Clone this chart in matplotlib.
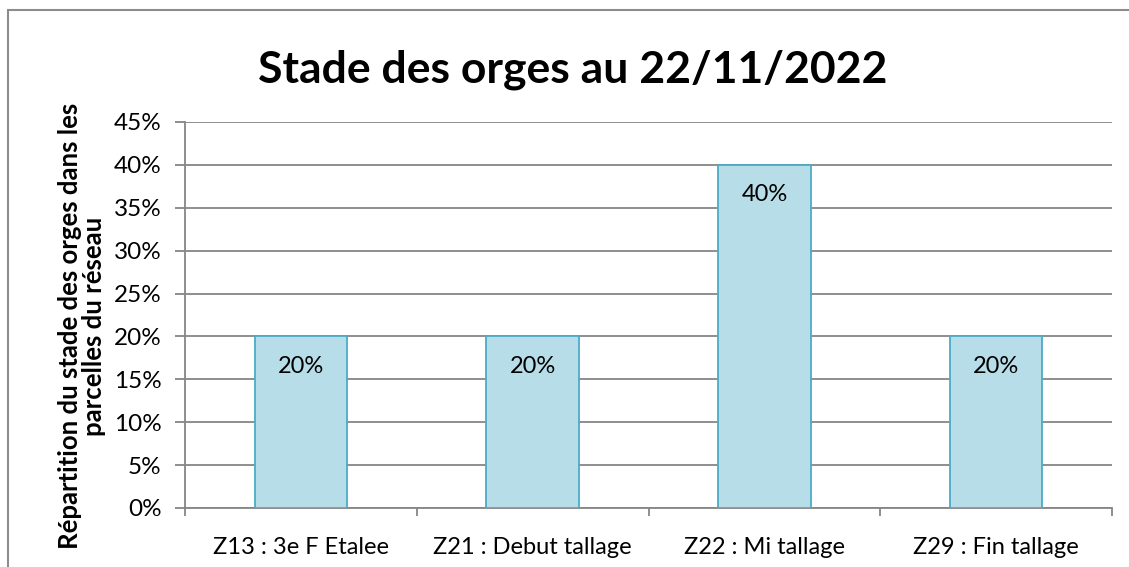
import numpy as np
import matplotlib
matplotlib.use("Agg")
import matplotlib.pyplot as plt
from matplotlib.patches import Rectangle

plt.rcParams["font.family"] = ["Lato", "DejaVu Sans"]

categories = ["Z13 : 3e F Etalee", "Z21 : Debut tallage", "Z22 : Mi tallage", "Z29 : Fin tallage"]
values = [0.20, 0.20, 0.40, 0.20]
labels = ["20%", "20%", "40%", "20%"]
yticks = [0.0, 0.05, 0.10, 0.15, 0.20, 0.25, 0.30, 0.35, 0.40, 0.45]

grey = "#868686"

fig = plt.figure(figsize=(11.29, 5.67), dpi=100)
W, H = 1129, 567
# plot area in pixels: left 185, right 1112, top 122, bottom 508
ax = fig.add_axes([185 / W, 1 - 508 / H, (1112 - 185) / W, (508 - 122) / H])

# cadre exterieur (coupe a droite et en bas)
fig.patches.append(Rectangle((8 / W, -0.1), 1.2, 1 - 10 / H + 0.1,
                             transform=fig.transFigure, fill=False,
                             edgecolor="#8c8c8c", linewidth=1.5))

x = np.arange(len(categories))
ax.set_axisbelow(True)
ax.yaxis.grid(True, color=grey, linewidth=1.3)
ax.bar(x, values, width=0.4, color="#B7DDE8", edgecolor="#4BACC6", linewidth=1.3, zorder=3)

for xi, v, lab in zip(x, values, labels):
    ax.text(xi, v - 0.035, lab, ha="center", va="center", fontsize=17, zorder=4)

ax.set_xlim(-0.5, len(categories) - 0.5)
ax.set_ylim(0, 0.45)
ax.set_yticks(yticks)
ax.set_yticklabels(["%d%%" % round(t * 100) for t in yticks], fontsize=17.5)

ax.set_xticks(x)
ax.set_xticklabels(categories, fontsize=17)
ax.tick_params(axis="x", which="major", length=0, pad=21)
ax.set_xticks(np.arange(-0.5, len(categories)), minor=True)
ax.tick_params(axis="x", which="minor", length=6, width=1.3, color=grey)
ax.tick_params(axis="y", length=7, width=1.3, color=grey, pad=10)

for s in ["top", "right"]:
    ax.spines[s].set_visible(False)
for s in ["left", "bottom"]:
    ax.spines[s].set_color(grey)
    ax.spines[s].set_linewidth(1.3)

fig.text(573 / W, 1 - 70 / H, "Stade des orges au 22/11/2022", ha="center", va="center",
         fontsize=32, fontweight="bold")
fig.text(82 / W, 1 - 326 / H, "Répartition du stade des orges dans les\nparcelles du réseau",
         ha="center", va="center", rotation=90, fontsize=18.5, fontweight="bold",
         linespacing=0.95)

fig.savefig("out.png", dpi=100)
